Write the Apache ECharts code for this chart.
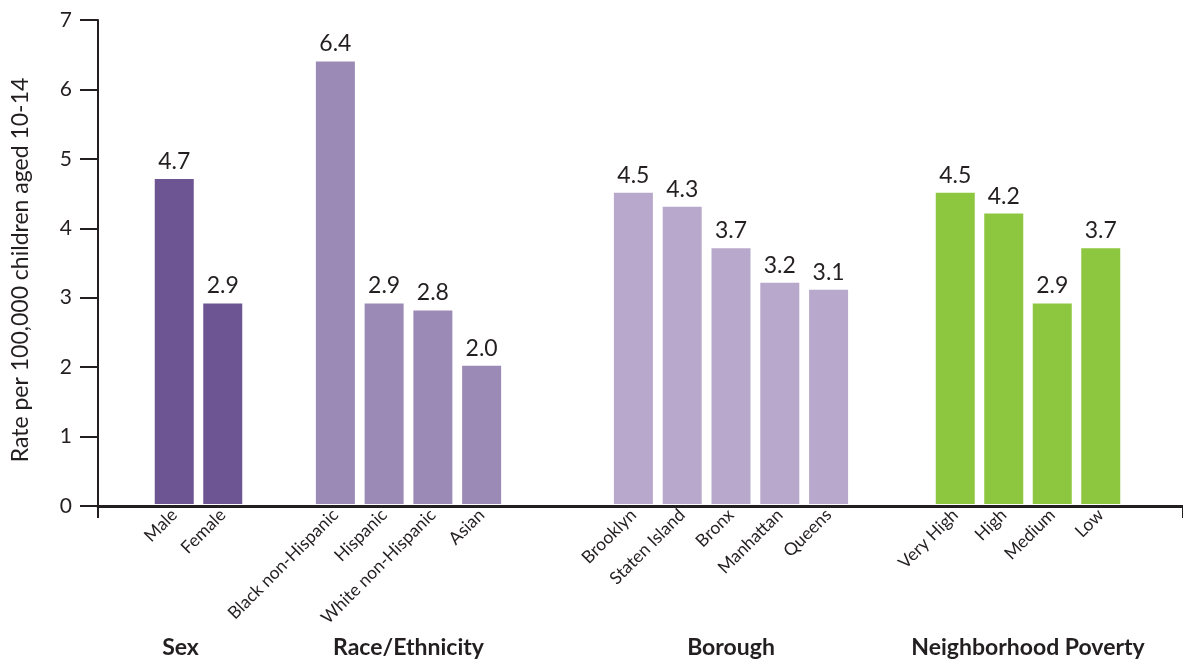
<!DOCTYPE html>
<html>
<head>
<meta charset="utf-8">
<script src="https://cdn.jsdelivr.net/npm/echarts@6/dist/echarts.min.js"></script>
<style>
  html, body { margin: 0; padding: 0; background: #fff; }
  #chart { width: 1183px; height: 664px; }
</style>
</head>
<body>
<div id="chart"></div>
<script>
// values
const sexCats = ["Male", "Female"];
const sexVals = [4.7, 2.9];
const raceCats = ["Black non-Hispanic", "Hispanic", "White non-Hispanic", "Asian"];
const raceVals = [6.4, 2.9, 2.8, 2.0];
const boroCats = ["Brooklyn", "Staten Island", "Bronx", "Manhattan", "Queens"];
const boroVals = [4.5, 4.3, 3.7, 3.2, 3.1];
const povCats = ["Very High", "High", "Medium", "Low"];
const povVals = [4.5, 4.2, 2.9, 3.7];
const groupNames = ["Sex", "Race/Ethnicity", "Borough", "Neighborhood Poverty"];
const yMin = 0;
const yMax = 7;
const yStep = 1;

const groups = [
  { cats: sexCats, vals: sexVals },
  { cats: raceCats, vals: raceVals },
  { cats: boroCats, vals: boroVals },
  { cats: povCats, vals: povVals },
];

// layout and styles
const ink = "#231f20";
const font = "Lato, 'Open Sans', sans-serif";
const groupColors = ["#6c5592", "#9b8ab6", "#b8a9cc", "#8dc63f"];
const groupBoxes = [
  { left: 150, width: 97 },
  { left: 311, width: 195 },
  { left: 609, width: 244 },
  { left: 931, width: 194 },
];
const gridTop = 20;
const gridBottom = 158;

const grids = [{ left: 98, right: -10, top: gridTop, bottom: gridBottom }];
const xAxes = [{
  gridIndex: 0,
  type: "category",
  data: [""],
  z: 5,
  axisLine: { lineStyle: { color: ink, width: 3 } },
  axisTick: { show: true, length: 12, lineStyle: { color: ink, width: 2 } },
  axisLabel: { show: false },
}];
const yAxes = [{
  gridIndex: 0,
  type: "value",
  min: yMin,
  max: yMax,
  interval: yStep,
  name: "Rate per 100,000 children aged 10-14",
  nameLocation: "middle",
  nameGap: 66,
  nameTextStyle: { color: ink, fontFamily: font, fontSize: 23, padding: [0, 14, 0, 0] },
  axisLine: { show: true, lineStyle: { color: ink, width: 2 } },
  axisTick: { show: true, length: 18, lineStyle: { color: ink, width: 2 } },
  axisLabel: { color: ink, fontFamily: font, fontSize: 21, margin: 26 },
  splitLine: { show: false },
}];
const series = [];

groups.forEach((g, i) => {
  const gi = i + 1;
  grids.push({ left: groupBoxes[i].left, width: groupBoxes[i].width, top: gridTop, bottom: gridBottom });
  xAxes.push({
    gridIndex: gi,
    type: "category",
    data: g.cats,
    name: groupNames[i],
    nameLocation: "middle",
    nameGap: 132,
    nameTextStyle: {
      color: ink, fontFamily: font, fontSize: 23, fontWeight: "bold",
      padding: i === 0 ? [0, 36, 0, 0] : 0,
    },
    axisLine: { show: false },
    axisTick: { show: false },
    axisLabel: { interval: 0, rotate: 45, color: ink, fontFamily: font, fontSize: 17.5, margin: 8 },
  });
  yAxes.push({ gridIndex: gi, type: "value", min: yMin, max: yMax, show: false });
  series.push({
    type: "bar",
    xAxisIndex: gi,
    yAxisIndex: gi,
    data: g.vals,
    barWidth: 39,
    itemStyle: { color: groupColors[i] },
    label: {
      show: true,
      position: "top",
      distance: 6,
      color: ink,
      fontFamily: font,
      fontSize: 23,
      formatter: (p) => p.value.toFixed(1),
    },
  });
});

const chart = echarts.init(document.getElementById("chart"), null, { renderer: "canvas" });
chart.setOption({
  animation: false,
  grid: grids,
  xAxis: xAxes,
  yAxis: yAxes,
  series: series,
});
</script>
</body>
</html>
